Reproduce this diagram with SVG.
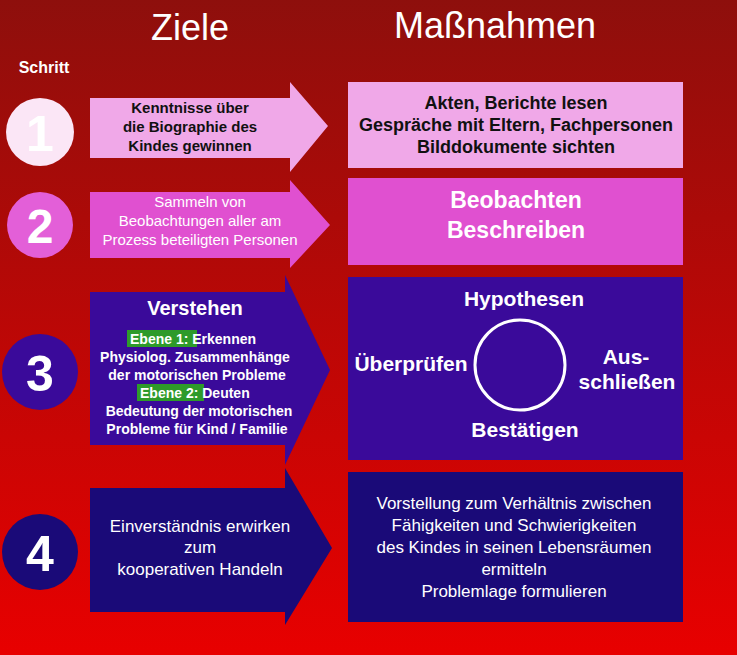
<svg xmlns="http://www.w3.org/2000/svg" width="737" height="655" viewBox="0 0 737 655">
<defs>
<linearGradient id="bg" x1="0" y1="0" x2="0" y2="1"><stop offset="0" stop-color="#8e0f0c"/><stop offset="1" stop-color="#e80000"/></linearGradient>
</defs>
<style>
text{font-family:"Liberation Sans",Arial,sans-serif;text-anchor:middle;fill:#fff}
.b{font-weight:bold}
.dk{fill:#111}
.s{text-anchor:start}
</style>
<rect width="737" height="655" fill="url(#bg)"/>
<text x="190" y="40" font-size="36">Ziele</text>
<text x="495" y="38" font-size="36">Maßnahmen</text>
<text x="44" y="73" font-size="16" class="b">Schritt</text>
<g id="step1">
<circle cx="40" cy="132" r="34" fill="#fbe6f6"/>
<text x="40" y="151" font-size="50" class="b">1</text>
<path d="M90,98H290V82L328,126L290,172V158H90Z" fill="#f0a8e8"/>
<g font-size="15" class="b"><text x="190" y="113" class="dk">Kenntnisse über</text>
<text x="190" y="132" class="dk">die Biographie des</text>
<text x="190" y="151" class="dk">Kindes gewinnen</text></g>
</g>
<g id="step2">
<circle cx="40" cy="225" r="33" fill="#e35fd8"/>
<text x="40" y="243" font-size="48" class="b">2</text>
<path d="M90,192H290V180L330,225L290,268V258H90Z" fill="#e050d0"/>
<g font-size="15"><text x="200" y="207" fill="#f8d8f4">Sammeln von</text>
<text x="200" y="226" fill="#f8d8f4">Beobachtungen aller am</text>
<text x="200" y="245" fill="#f8d8f4">Prozess beteiligten Personen</text></g>
</g>
<g id="step3">
<circle cx="40" cy="372" r="38" fill="#3a0a9a"/>
<text x="40" y="391" font-size="50" class="b">3</text>
<path d="M90,292H285V275L330,370L285,465V445H90Z" fill="#3a0a9a"/>
<text x="195" y="315" font-size="20" class="b">Verstehen</text>
<rect x="127" y="330" width="70" height="17" fill="#2e9a2a"/>
<rect x="137" y="384" width="67" height="17" fill="#2e9a2a"/>
<g font-size="14" class="b">
<text x="130" y="344" class="s">Ebene 1: Erkennen</text>
<text x="195" y="362">Physiolog. Zusammenhänge</text>
<text x="197" y="380">der motorischen Probleme</text>
<text x="140" y="398" class="s">Ebene 2: Deuten</text>
<text x="199" y="416">Bedeutung der motorischen</text>
<text x="197" y="434">Probleme für Kind / Familie</text>
</g>
</g>
<g id="step4">
<circle cx="40" cy="552" r="38" fill="#1a0a78"/>
<text x="40" y="571" font-size="50" class="b">4</text>
<path d="M90,488H285V468L332,548L285,625V612H90Z" fill="#1a0a78"/>
<g font-size="17"><text x="200" y="532">Einverständnis erwirken</text>
<text x="200" y="553">zum</text>
<text x="200" y="575">kooperativen Handeln</text></g>
</g>
<g id="box1">
<rect x="348" y="82" width="335" height="86" fill="#f0a8e8"/>
<g font-size="18" class="b"><text x="516" y="109" class="dk">Akten, Berichte lesen</text>
<text x="516" y="131" class="dk">Gespräche mit Eltern, Fachpersonen</text>
<text x="516" y="153" class="dk">Bilddokumente sichten</text></g>
</g>
<g id="box2">
<rect x="348" y="178" width="335" height="87" fill="#e050d0"/>
<g font-size="23" class="b"><text x="516" y="208">Beobachten</text><text x="516" y="238">Beschreiben</text></g>
</g>
<g id="box3">
<rect x="348" y="277" width="335" height="183" fill="#3a0a9a"/>
<circle cx="520" cy="365" r="45" fill="none" stroke="#fff" stroke-width="3"/>
<g font-size="21" class="b"><text x="524" y="306">Hypothesen</text>
<text x="411" y="371">Überprüfen</text>
<text x="626" y="364">Aus-</text>
<text x="627" y="389">schließen</text>
<text x="525" y="437">Bestätigen</text></g>
</g>
<g id="box4">
<rect x="348" y="472" width="335" height="150" fill="#1a0a78"/>
<g font-size="17"><text x="514" y="509">Vorstellung zum Verhältnis zwischen</text>
<text x="514" y="531">Fähigkeiten und Schwierigkeiten</text>
<text x="514" y="553">des Kindes in seinen Lebensräumen</text>
<text x="514" y="575">ermitteln</text>
<text x="514" y="597">Problemlage formulieren</text></g>
</g>
<g id="connectors"/>
</svg>
